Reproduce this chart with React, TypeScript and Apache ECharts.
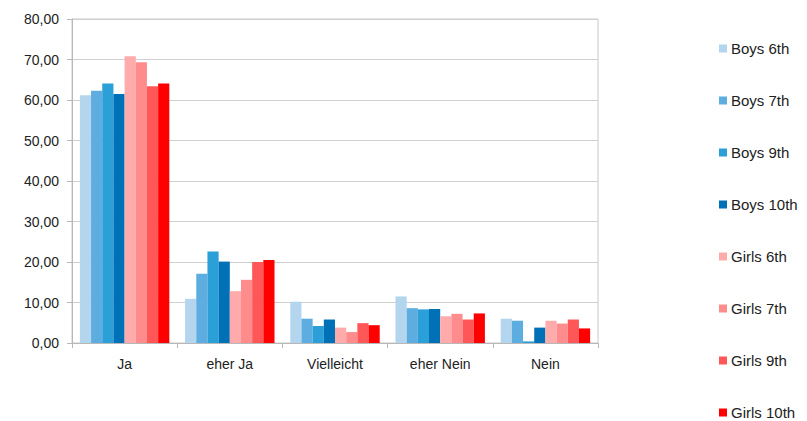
import React, { useEffect, useRef } from "react";
import * as echarts from "echarts";

const categories = ["Ja", "eher Ja", "Vielleicht", "eher Nein", "Nein"];
const seriesNames = ["Boys 6th", "Boys 7th", "Boys 9th", "Boys 10th", "Girls 6th", "Girls 7th", "Girls 9th", "Girls 10th"];
const colors = ["#b3d5ee", "#5dade0", "#2b9fd8", "#0070b7", "#ffabab", "#ff8c8c", "#ff5757", "#ff0000"];
const boys6 = [61.2, 10.9, 10.2, 11.5, 6.0];
const boys7 = [62.3, 17.1, 6.0, 8.6, 5.5];
const boys9 = [64.1, 22.6, 4.2, 8.3, 0.4];
const boys10 = [61.5, 20.1, 5.8, 8.4, 3.8];
const girls6 = [70.8, 12.8, 3.8, 6.6, 5.5];
const girls7 = [69.3, 15.6, 2.7, 7.2, 4.8];
const girls9 = [63.4, 20.0, 4.9, 5.8, 5.8];
const girls10 = [64.1, 20.5, 4.4, 7.3, 3.6];
const values = [boys6, boys7, boys9, boys10, girls6, girls7, girls9, girls10];

export default function App() {
  const ref = useRef<HTMLDivElement>(null);
  useEffect(() => {
    const chart = echarts.init(ref.current!, null, { renderer: "svg" });
    chart.setOption({
      animation: false,
      textStyle: { fontFamily: "Liberation Sans, Arial, sans-serif" },
      grid: { left: 72, right: 209, top: 19, bottom: 78, show: true, borderColor: "#c8c8c8", borderWidth: 1 },
      legend: {
        orient: "vertical",
        left: 719,
        top: 41,
        height: 500,
        padding: 0,
        itemWidth: 8,
        itemHeight: 8,
        itemGap: 37,
        icon: "rect",
        textStyle: { fontSize: 15, color: "#222", padding: [0, 0, 0, -1], height: 15, lineHeight: 15 },
        data: seriesNames,
      },
      xAxis: {
        type: "category",
        data: categories,
        axisLine: { lineStyle: { color: "#b8b8b8" } },
        axisTick: { show: true, length: 5, lineStyle: { color: "#b8b8b8" } },
        axisLabel: { fontSize: 14, color: "#222", margin: 14 },
      },
      yAxis: {
        type: "value",
        min: 0,
        max: 80,
        interval: 10,
        axisLine: { show: true, lineStyle: { color: "#b8b8b8" } },
        axisTick: { show: true, length: 5, lineStyle: { color: "#b8b8b8" } },
        splitLine: { lineStyle: { color: "#d0d0d0" } },
        axisLabel: {
          fontSize: 14,
          color: "#222",
          margin: 13,
          formatter: (v: number) => v.toFixed(2).replace(".", ","),
        },
      },
      series: seriesNames.map((name, i) => ({
        name,
        type: "bar",
        data: values[i],
        barGap: "0%",
        barCategoryGap: "15%",
        itemStyle: { color: colors[i] },
      })),
    });
    return () => chart.dispose();
  }, []);
  return <div ref={ref} style={{ width: 807, height: 421, position: "absolute", left: 0, top: 0 }} />;
}
